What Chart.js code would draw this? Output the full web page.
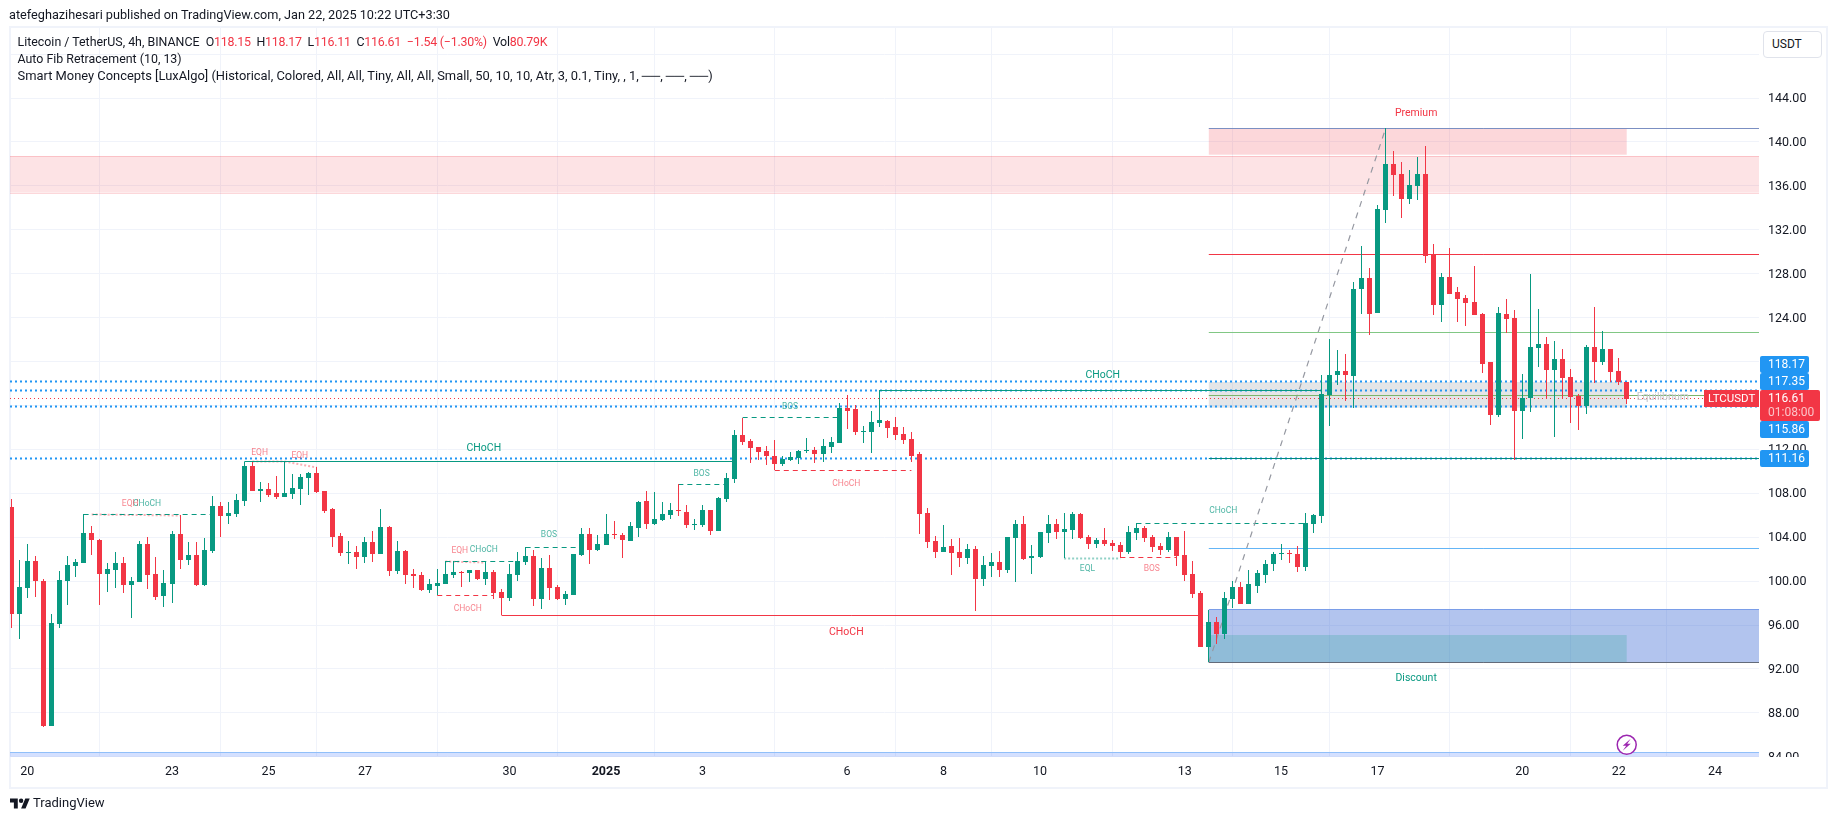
<!DOCTYPE html>
<html>
<head>
<meta charset="utf-8">
<title>LTCUSDT 4h</title>
<script src="https://cdn.jsdelivr.net/npm/chart.js@4/dist/chart.umd.js"></script>
<style>
  html, body { margin: 0; padding: 0; background: #fff; width: 1835px; height: 821px; overflow: hidden; }
  body { font-family: Roboto, sans-serif; color: #131722; position: relative; }
  #frame { position: absolute; left: 9px; top: 26px; width: 1815px; height: 759px; border: 2px solid #f0f3fa; }
  canvas { position: absolute; left: 0; top: 0; }
  .txt { position: absolute; white-space: pre; font-size: 13px; line-height: 16px; }
  .down { color: #f23645; }
  #usdt { position: absolute; left: 1763px; top: 31px; width: 49px; height: 25px; border: 1px solid #e0e3eb; border-radius: 4px;
          background: #fff; font-size: 12px; line-height: 25px; padding-left: 8px; }
  #logo { position: absolute; left: 10px; top: 797px; }
</style>
</head>
<body>
<div id="frame"></div>
<canvas id="chart" width="1835" height="821"></canvas>
<div class="txt" style="left:9px;top:7px;font-size:12.7px">atefeghazihesari published on TradingView.com, Jan 22, 2025 10:22 UTC+3:30</div>
<div class="txt" style="left:17.5px;top:34px;font-size:12.4px">Litecoin / TetherUS, 4h, BINANCE  <span style="letter-spacing:-0.22px">O<span class="down">118.15</span>  H<span class="down">118.17</span>  L<span class="down">116.11</span>  C<span class="down">116.61</span>  <span class="down">−1.54 (−1.30%)</span>  Vol<span class="down">80.79K</span></span></div>
<div class="txt" style="left:17.5px;top:51px;font-size:12.4px">Auto Fib Retracement (10, 13)</div>
<div class="txt" style="left:17.5px;top:68px;font-size:12.9px">Smart Money Concepts [LuxAlgo] (Historical, Colored, All, All, Tiny, All, All, Small, 50, 10, 10, Atr, 3, 0.1, Tiny, , 1, ──, ──, ──)</div>
<div id="usdt">USDT</div>
<svg id="logo" width="20" height="13" viewBox="0 4 36 18"><path fill="#131722" d="M14 22H7V11H0V4h14v18zM28 22h-8l7.5-18h8L28 22z"/><circle fill="#131722" cx="20" cy="8" r="4"/></svg>
<div class="txt" style="left:33px;top:795px;">TradingView</div>

<script>
// 4h candles, one entry per bar
const opens = [
  106.75,97.03,99.40,101.83,100.01,86.80,96.09,100.01,101.37,101.65,
  104.38,103.74,100.65,101.01,101.65,99.64,99.92,103.38,100.65,98.64,
  99.74,104.29,101.92,102.38,99.64,102.74,106.84,105.93,106.11,107.29,
  110.48,108.20,108.39,108.02,107.66,107.93,108.39,109.39,109.84,108.21,
  106.57,104.11,102.56,102.65,102.20,103.56,102.47,104.93,100.92,102.74,
  100.65,100.56,99.19,99.55,99.74,100.56,100.83,100.74,101.01,100.19,
  100.83,99.01,98.46,100.56,101.74,102.29,98.37,101.19,99.46,98.37,
  98.73,102.38,104.29,102.83,103.29,104.29,104.20,103.66,104.84,107.30,
  105.20,105.57,106.03,106.48,106.30,105.11,105.11,106.48,104.57,107.48,
  109.30,113.31,112.76,112.22,111.85,111.40,110.67,111.03,111.22,111.85,
  111.94,111.58,112.22,112.58,115.77,115.68,113.58,113.58,114.40,114.59,
  114.04,113.40,112.95,111.58,106.21,103.66,102.65,103.20,102.65,102.10,
  102.92,100.19,101.38,101.74,101.01,103.93,105.20,102.10,102.20,104.38,
  105.20,104.47,104.65,106.11,104.02,103.38,103.74,103.47,103.29,102.65,
  104.38,104.84,104.02,103.20,102.83,104.02,102.38,100.65,98.92,94.00,
  96.27,95.18,98.37,99.46,97.91,99.55,100.56,101.56,102.47,102.56,
  102.47,101.28,105.20,105.93,116.95,118.78,119.14,118.68,126.61,127.61,
  124.42,133.80,137.99,137.08,134.80,135.99,137.08,129.80,125.15,127.70,
  126.33,125.79,125.42,124.33,119.96,115.13,124.33,123.97,115.50,116.68,
  121.23,121.60,119.23,120.23,118.59,116.86,115.95,121.33,119.96,121.14,
  119.14,118.15
];
const closes = [
  97.03,99.46,101.83,100.01,86.80,96.18,100.10,101.47,101.74,104.38,
  103.74,100.65,101.10,101.65,99.64,100.01,103.38,100.56,98.55,99.83,
  104.29,101.92,102.38,99.64,102.83,106.84,105.93,106.20,107.39,110.48,
  108.20,108.39,107.84,107.66,108.02,108.48,109.48,109.84,108.11,106.38,
  104.02,102.56,102.65,102.20,103.56,102.47,104.93,100.92,102.74,100.56,
  100.46,99.19,99.74,99.83,100.65,100.83,100.74,101.01,100.19,100.83,
  98.92,98.46,100.65,101.83,102.29,98.37,101.19,99.37,98.37,98.82,
  102.47,104.29,102.83,103.38,104.29,104.20,103.74,105.02,107.21,105.20,
  105.66,106.12,106.48,106.39,105.11,105.20,106.48,104.57,107.57,109.39,
  113.31,112.67,112.13,111.76,111.40,110.67,111.13,111.31,111.85,111.94,
  111.58,112.31,112.67,115.77,115.50,113.58,113.67,114.49,114.68,113.95,
  113.31,112.86,111.40,106.12,103.57,102.66,103.10,102.56,102.10,102.92,
  100.19,101.47,101.74,101.01,104.02,105.20,102.00,102.29,104.47,105.20,
  104.47,104.75,106.11,103.93,103.38,103.74,103.38,103.20,102.65,104.47,
  104.84,103.93,103.11,102.83,104.02,102.29,100.56,98.83,94.00,96.27,
  95.18,98.46,99.46,97.91,99.74,100.74,101.56,102.47,102.56,102.47,
  101.28,105.29,106.02,117.05,118.78,119.14,118.78,126.61,127.61,124.33,
  133.89,137.99,136.99,134.80,136.08,137.08,129.61,125.15,127.70,126.15,
  125.70,125.33,124.24,119.78,115.13,124.42,123.87,115.50,116.68,121.33,
  121.60,119.23,120.23,118.50,116.77,115.95,121.33,119.96,121.14,119.05,
  118.14,116.61
];
const highs = [
  107.48,101.92,103.38,102.29,100.19,97.00,100.92,102.29,102.01,106.08,
  105.02,103.83,101.65,102.65,102.19,100.37,103.65,104.02,102.19,101.01,
  104.56,106.02,103.56,103.56,103.92,107.75,107.20,107.20,107.93,110.85,
  110.85,109.02,108.93,109.57,110.85,109.75,109.75,109.94,110.39,108.21,
  106.66,104.38,103.65,103.20,104.02,104.56,106.57,105.02,103.65,102.83,
  101.10,100.83,100.19,101.10,101.83,101.83,100.92,101.01,101.01,101.74,
  101.01,99.28,101.56,102.65,103.08,102.83,102.10,102.38,99.64,99.10,
  102.47,104.84,104.84,104.20,106.11,105.47,104.38,105.39,107.30,108.21,
  108.12,107.21,107.12,108.85,106.94,105.66,106.94,106.48,107.66,109.85,
  113.77,114.86,112.95,112.22,112.31,112.86,111.40,111.76,111.94,113.04,
  112.22,112.95,113.13,116.23,116.95,116.04,114.13,115.50,117.41,114.68,
  114.95,114.04,113.58,111.76,106.66,104.11,105.11,103.84,103.93,103.38,
  103.20,102.29,102.56,102.74,104.02,105.57,105.93,103.29,104.47,106.02,
  105.66,106.20,106.29,106.20,104.20,103.93,104.84,103.74,103.56,105.02,
  105.29,105.02,104.20,103.47,104.47,104.02,104.56,101.83,99.10,97.37,
  96.73,99.01,100.01,99.92,101.01,101.01,101.92,102.65,103.38,102.83,
  103.20,106.20,106.11,118.78,122.05,121.05,120.69,127.24,130.52,128.52,
  134.26,141.24,139.18,138.17,137.45,138.63,139.63,130.71,128.07,130.34,
  126.79,126.06,128.70,124.42,119.96,124.97,125.70,124.70,118.87,127.97,
  124.79,122.24,121.87,121.14,119.32,117.04,121.51,124.97,122.78,121.14,
  120.32,118.17
];
const lows = [
  95.73,94.73,98.49,98.58,86.71,86.80,95.73,97.82,100.37,101.65,
  102.38,97.82,99.01,99.37,98.92,96.64,99.92,99.28,98.28,97.64,
  98.00,101.10,101.47,99.55,99.55,102.56,104.02,105.20,105.84,106.84,
  108.20,107.20,107.66,107.48,107.66,107.48,106.93,107.84,108.02,106.20,
  103.10,102.29,101.56,101.10,101.65,101.74,102.47,100.46,100.65,99.74,
  99.37,99.10,98.92,98.70,99.74,100.28,99.46,99.92,100.10,99.64,
  98.37,96.90,98.19,100.00,101.47,97.73,97.46,98.28,98.28,97.82,
  98.73,102.29,101.56,102.74,103.29,103.83,102.10,103.66,104.02,104.75,
  105.11,105.48,105.66,105.93,104.84,104.66,104.93,104.20,104.57,107.21,
  108.94,112.40,110.76,111.03,110.58,110.12,110.49,110.94,110.67,111.67,
  110.76,110.85,111.67,112.58,113.86,113.31,112.58,111.67,114.04,113.04,
  112.86,112.49,110.85,104.30,103.02,102.10,102.65,100.56,101.28,101.56,
  97.28,99.55,100.37,100.37,100.74,99.92,101.92,100.65,102.10,103.47,
  103.84,102.10,103.84,103.84,102.92,103.02,103.20,102.74,102.10,102.47,
  103.74,103.56,102.65,102.38,102.65,101.38,100.01,98.46,94.00,92.63,
  94.27,94.73,97.55,97.91,97.91,98.92,99.83,100.92,101.92,101.65,
  100.83,100.92,104.38,105.29,114.13,117.87,116.41,115.77,124.33,122.42,
  124.42,132.62,135.08,133.07,134.35,134.71,128.98,124.24,123.60,126.15,
  123.60,123.24,124.24,118.96,114.22,114.95,122.60,111.03,112.95,115.40,
  119.50,116.68,113.13,116.68,114.40,113.77,115.22,118.05,119.69,118.14,
  117.87,116.11
];

// axis ticks, x values are bar numbers
const dateTickBars = [2,20,32,44,62,74,86,104,116,128,146,158,170,188,200,212];
const dateTickLabels = ['20','23','25','27','30','2025','3','6','8','10','13','15','17','20','22','24'];
const priceTicks = [84,88,92,96,100,104,108,112,116,120,124,128,132,136,140,144,148];

// horizontal levels
const dottedLevels = [118.17,117.35,115.86,111.16];
const lastPrice = 116.61;
const fibTop = 141.24, fibHigh = 129.76, fibMid = 122.66, fibEq = 116.92, fibLow = 111.16, fibBlue = 102.98, fibBottom = 92.63;
const fibStartBar = 149, fibEndBar = 171;
const zoneEndBar = 201;

// smart money structure lines: [fromBar, toBar, price]
const chochBull = [[29,90,110.85],[108,163,117.38]];
const chochBear = [[61,148,96.88]];
const dashedBull = [[9,25,106.08],[54,63,101.83],[64,71,103.08],[83,89,108.82],[91,103,114.86],[140,161,105.26]];
const dashedBear = [[53,60,98.70],[95,112,110.09],[138,145,102.14]];
const eqhLines = [[10,21,106.08,106.02],[30,34,110.85,110.85],[34,38,110.85,110.39],[54,59,101.83,101.74]];
const eqlLines = [[131,138,102.10,102.10]];

// zones: [low, high]
const supplyZone = [135.38,138.72];
const premiumZone = [138.84,141.24];
const equilibriumZone = [115.80,118.14];
const discountZone = [92.63,97.37];
const discountInner = [92.63,95.09];
const bottomBand = [84,84.4];

// labels on the chart: text, bar, price
const bullTiny = [['CHoCH',16.9,107.1],['CHoCH',58.8,102.9],['BOS',66.9,104.3],['BOS',85.9,109.9],['BOS',96.9,115.95],['CHoCH',150.8,106.48],['EQL',133.9,101.2]];
const bearTiny = [['EQH',14.8,107.1],['EQH',30.9,111.76],['EQH',35.9,111.49],['EQH',55.8,102.83],['CHoCH',56.8,97.6],['CHoCH',103.9,108.94],['BOS',141.9,101.2]];
const bullSmall = [['CHoCH',58.8,112.2],['CHoCH',135.8,118.86],['Discount',174.8,91.27]];
const bearSmall = [['CHoCH',103.9,95.46],['Premium',174.8,142.72]];
const equilibriumLabel = ['Equilibrium',205.5,116.86];
const alertMark = [201,85.09];

const GREEN = '#089981', RED = '#f23645', BLUE = '#2196f3';
const xMin = -0.16, xMax = 217.46;

const barNums = opens.map((_, i) => i);
const barColors = barNums.map(i => closes[i] >= opens[i] ? GREEN : RED);

function hline(from, to, price, color, width, dash, price2, order) {
  return {
    type: 'line',
    data: [{x: from, y: price}, {x: to, y: price2 === undefined ? price : price2}],
    borderColor: color, borderWidth: width, borderDash: dash || [],
    pointRadius: 0, fill: false, tension: 0, order: order || 5
  };
}

const datasets = [
  { type: 'bar', label: 'body', data: barNums.map(i => ({x: i, y: [opens[i], closes[i]]})),
    backgroundColor: barColors, grouped: false, maxBarThickness: 5, order: 0 },
  { type: 'bar', label: 'wick', data: barNums.map(i => ({x: i, y: [lows[i], highs[i]]})),
    backgroundColor: barColors, grouped: false, maxBarThickness: 1, order: 1 }
];

// dotted levels sit under the solid ones
dottedLevels.forEach(p => datasets.push(hline(xMin, xMax, p, BLUE, 2, [2,3], undefined, 6)));
datasets.push(hline(xMin, xMax, lastPrice, RED, 1, [1,3]));
datasets.push(hline(fibStartBar, xMax, fibTop, '#7b8fc2', 1));
datasets.push(hline(fibStartBar, xMax, fibHigh, RED, 1));
datasets.push(hline(fibStartBar, xMax, fibMid, '#81c784', 1));
datasets.push(hline(fibStartBar, xMax, fibEq, '#7cb46a', 1));
datasets.push(hline(fibStartBar, xMax, fibLow, '#00897b', 1));
datasets.push(hline(fibStartBar, xMax, fibBlue, '#64b5f6', 1));
datasets.push(hline(fibStartBar, xMax, fibBottom, '#636b7a', 1));
datasets.push(hline(fibStartBar, xMax, discountZone[1], '#7a9de8', 1));
datasets.push(hline(fibStartBar, fibEndBar, fibBottom, '#9598a1', 1.2, [6,6], fibTop));
chochBull.forEach(s => datasets.push(hline(s[0], s[1], s[2], GREEN, 1)));
chochBear.forEach(s => datasets.push(hline(s[0], s[1], s[2], RED, 1)));
dashedBull.forEach(s => datasets.push(hline(s[0], s[1], s[2], GREEN, 1, [5,4])));
dashedBear.forEach(s => datasets.push(hline(s[0], s[1], s[2], RED, 1, [5,4])));
eqhLines.forEach(s => datasets.push(hline(s[0], s[1], s[2], 'rgba(242,54,69,0.4)', 2, [2,2], s[3])));
eqlLines.forEach(s => datasets.push(hline(s[0], s[1], s[2], 'rgba(8,153,129,0.45)', 2, [2,2], s[3])));

// keep candles and levels on whole pixels, otherwise 1px wicks go blurry
const snapPlugin = {
  id: 'snap',
  afterDatasetsUpdate(chart) {
    chart.getSortedVisibleDatasetMetas().forEach(meta => {
      meta.data.forEach(el => {
        if (meta.type === 'bar') {
          el.x = Math.floor(el.x) + 0.5;
          el.y = Math.round(el.y);
          el.base = Math.round(el.base);
          if (el.y === el.base) el.y = el.base - 1;
        } else {
          el.y = Math.floor(el.y) + 0.5;
        }
      });
    });
  },
  // price labels sit a pixel lower than the canvas middle baseline gives
  beforeDraw(chart) {
    chart.scales.y.getLabelItems(chart.chartArea).forEach(item => {
      if (!item.nudged) { item.options.translation[1] += 1; item.nudged = true; }
    });
  }
};

const zonesPlugin = {
  id: 'zones',
  beforeDatasetsDraw(chart) {
    const {ctx, scales: {x, y}, chartArea: a} = chart;
    ctx.save();
    ctx.beginPath(); ctx.rect(a.left, a.top, a.width, a.height); ctx.clip();
    const box = (from, to, zone, fill) => {
      ctx.fillStyle = fill;
      const top = y.getPixelForValue(zone[1]), bottom = y.getPixelForValue(zone[0]);
      ctx.fillRect(x.getPixelForValue(from), top, x.getPixelForValue(to) - x.getPixelForValue(from), bottom - top);
    };
    box(xMin, xMax, supplyZone, 'rgba(242,54,69,0.14)');
    ctx.fillStyle = 'rgba(242,54,69,0.2)';
    ctx.fillRect(a.left, Math.round(y.getPixelForValue(supplyZone[1])), a.width, 1);
    ctx.fillRect(a.left, Math.round(y.getPixelForValue(supplyZone[0])), a.width, 1);
    box(fibStartBar, zoneEndBar, premiumZone, 'rgba(242,54,69,0.2)');
    box(fibStartBar, zoneEndBar, equilibriumZone, 'rgba(120,123,134,0.2)');
    box(fibStartBar, xMax, discountZone, 'rgba(35,85,205,0.35)');
    box(fibStartBar, zoneEndBar, discountInner, 'rgba(8,153,129,0.2)');
    box(xMin, xMax, bottomBand, 'rgba(41,98,255,0.2)');
    ctx.fillStyle = '#90bff9';
    ctx.fillRect(a.left, Math.round(y.getPixelForValue(bottomBand[1])), a.width, 1);
    ctx.restore();
  }
};

const labelsPlugin = {
  id: 'labels',
  afterDatasetsDraw(chart) {
    const {ctx, scales: {x, y}} = chart;
    ctx.save();
    ctx.textAlign = 'center';
    ctx.textBaseline = 'middle';
    const put = (list, color, font) => {
      ctx.fillStyle = color; ctx.font = font;
      list.forEach(l => ctx.fillText(l[0], x.getPixelForValue(l[1]), y.getPixelForValue(l[2]) + 1));
    };
    put(bullTiny, 'rgba(8,153,129,0.72)', '8.5px Roboto');
    put(bearTiny, 'rgba(242,54,69,0.62)', '8.5px Roboto');
    put(bullSmall, GREEN, '10.5px Roboto');
    put(bearSmall, RED, '10.5px Roboto');
    put([equilibriumLabel], '#c3c5cb', '10.5px Roboto');

    // alert icon
    const ax = x.getPixelForValue(alertMark[0]), ay = y.getPixelForValue(alertMark[1]);
    ctx.beginPath(); ctx.arc(ax, ay, 9.5, 0, Math.PI * 2);
    ctx.fillStyle = '#fff'; ctx.fill();
    ctx.lineWidth = 1.5; ctx.strokeStyle = '#9c27b0'; ctx.stroke();
    ctx.fillStyle = '#9c27b0';
    ctx.beginPath();
    ctx.moveTo(ax + 4, ay - 6); ctx.lineTo(ax - 4, ay + 1); ctx.lineTo(ax - 0.5, ay + 1);
    ctx.lineTo(ax - 4, ay + 6); ctx.lineTo(ax + 4, ay - 1); ctx.lineTo(ax + 0.5, ay - 1);
    ctx.closePath(); ctx.fill();
    ctx.restore();
  }
};

// price tags on the axis are pushed apart like on TradingView, so their boxes are fixed
const tagsPlugin = {
  id: 'tags',
  afterDraw(chart) {
    const {ctx, chartArea: a} = chart;
    ctx.save();
    // clip the lowest tick label where the pane ends
    ctx.fillStyle = '#fff';
    ctx.fillRect(a.right, a.bottom, 64, 27);
    ctx.textBaseline = 'middle';
    ctx.font = '12px Roboto';
    const tag = (left, top, w, h, fill, lines) => {
      ctx.fillStyle = fill;
      ctx.beginPath(); ctx.roundRect(left, top, w, h, 2); ctx.fill();
      lines.forEach((l, i) => {
        ctx.fillStyle = l[1];
        ctx.fillText(l[0], left + 8, top + 9 + i * 14);
      });
    };
    tag(1760, 356, 49, 17, BLUE, [[dottedLevels[0].toFixed(2), '#fff']]);
    tag(1760, 373, 49, 17, BLUE, [[dottedLevels[1].toFixed(2), '#fff']]);
    tag(1760, 421, 49, 17, BLUE, [[dottedLevels[2].toFixed(2), '#fff']]);
    tag(1760, 450, 49, 17, BLUE, [[dottedLevels[3].toFixed(2), '#fff']]);
    tag(1760, 390, 60, 31, RED, [[lastPrice.toFixed(2), '#fff'], ['01:08:00', 'rgba(255,255,255,0.7)']]);
    ctx.fillStyle = RED;
    ctx.fillRect(1704, 390, 55, 17);
    ctx.fillStyle = '#fff';
    ctx.font = '11.5px Roboto';
    ctx.fillText('LTCUSDT', 1708, 399);
    ctx.restore();
  }
};

new Chart(document.getElementById('chart').getContext('2d'), {
  data: { datasets },
  plugins: [snapPlugin, zonesPlugin, labelsPlugin, tagsPlugin],
  options: {
    responsive: false,
    animation: false,
    events: [],
    layout: { padding: { left: 10, top: 27, right: 10, bottom: 35 } },
    plugins: { legend: { display: false }, tooltip: { enabled: false } },
    scales: {
      x: {
        type: 'linear', min: xMin, max: xMax, offset: false,
        afterBuildTicks: s => { s.ticks = dateTickBars.map(v => ({value: v})); },
        afterFit: s => { s.height = 29; },
        grid: { color: '#f0f3fa', drawTicks: false },
        border: { display: false },
        ticks: {
          autoSkip: false, maxRotation: 0, padding: 7, color: '#131722',
          font: c => ({ family: 'Roboto', size: 12.5, weight: c.tick && c.tick.label === '2025' ? 'bold' : 'normal' }),
          callback: v => dateTickLabels[dateTickBars.indexOf(v)]
        }
      },
      y: {
        type: 'linear', position: 'right', min: 83.98, max: 150.47,
        afterBuildTicks: s => { s.ticks = priceTicks.map(v => ({value: v})); },
        afterFit: s => { s.width = 66; },
        grid: { color: '#f0f3fa', drawTicks: false },
        border: { display: false },
        ticks: {
          padding: 9, color: '#131722', font: { family: 'Roboto', size: 12.5 },
          callback: v => v.toFixed(2)
        }
      }
    }
  }
});
</script>
</body>
</html>
